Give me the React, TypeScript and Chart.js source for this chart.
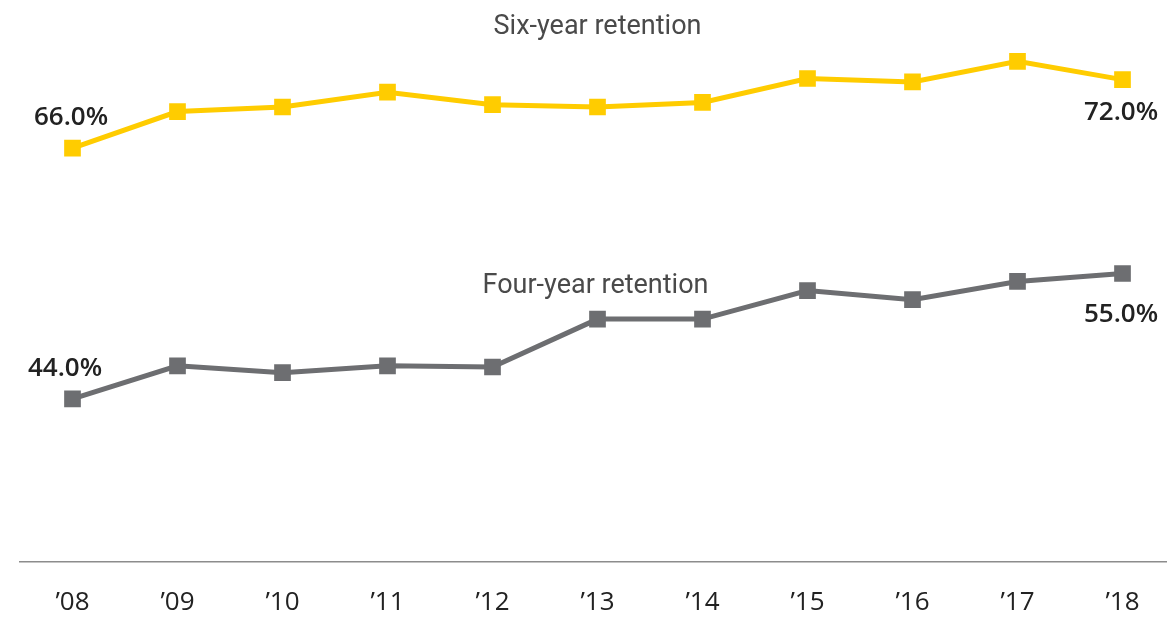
import React, { useEffect, useRef } from "react";
import { Chart, registerables } from "chart.js";

Chart.register(...registerables);

const categories = ["’08", "’09", "’10", "’11", "’12", "’13", "’14", "’15", "’16", "’17", "’18"];
const sixYear = [66.0, 69.2, 69.6, 70.9, 69.8, 69.6, 70.0, 72.1, 71.8, 73.6, 72.0];
const fourYear = [44.0, 46.9, 46.3, 46.9, 46.8, 51.0, 51.0, 53.5, 52.7, 54.3, 55.0];
const seriesNames = ["Six-year retention", "Four-year retention"];
const seriesColors = ["#FFCC00", "#6D6E71"];

const annotate = {
  id: "annotate",
  afterDatasetsDraw(chart: any) {
    const ctx = chart.ctx;
    const xs = chart.scales.x;
    ctx.save();
    ctx.textBaseline = "alphabetic";
    ctx.textAlign = "center";
    ctx.fillStyle = "#4a4a4a";
    ctx.font = "27px Roboto";
    const cx = xs.getPixelForValue(5);
    ctx.fillText(seriesNames[0], cx, 34);
    ctx.fillText(seriesNames[1], cx - 2, 292.5);

    ctx.fillStyle = "#222222";
    ctx.font = "600 26px 'Open Sans'";
    const offsets = [
      [[-1.5, -23.5], [-1.5, 40]],
      [[-7.5, -22.5], [-1.5, 49]],
    ];
    [0, 1].forEach((di) => {
      const meta = chart.getDatasetMeta(di);
      const vals = chart.data.datasets[di].data as number[];
      const first = meta.data[0];
      const last = meta.data[meta.data.length - 1];
      ctx.fillText(vals[0].toFixed(1) + "%", first.x + offsets[di][0][0], first.y + offsets[di][0][1]);
      ctx.fillText(
        vals[vals.length - 1].toFixed(1) + "%",
        last.x + offsets[di][1][0],
        last.y + offsets[di][1][1]
      );
    });
    ctx.restore();
  },
};

export default function App() {
  const ref = useRef<HTMLCanvasElement>(null);
  useEffect(() => {
    if (!ref.current) return;
    const chart = new Chart(ref.current, {
      type: "line",
      data: {
        labels: categories,
        datasets: [
          {
            label: seriesNames[0],
            data: sixYear,
            borderColor: seriesColors[0],
            backgroundColor: seriesColors[0],
            borderWidth: 5,
            pointStyle: "rect",
            pointRadius: 11.8,
            pointBorderWidth: 0,
            tension: 0,
          },
          {
            label: seriesNames[1],
            data: fourYear,
            borderColor: seriesColors[1],
            backgroundColor: seriesColors[1],
            borderWidth: 5,
            pointStyle: "rect",
            pointRadius: 11.8,
            pointBorderWidth: 0,
            tension: 0,
          },
        ],
      },
      options: {
        responsive: true,
        maintainAspectRatio: false,
        animation: false,
        layout: { autoPadding: false, padding: { left: 20, right: 0, top: 11.2, bottom: 0 } },
        plugins: { legend: { display: false }, tooltip: { enabled: false }, title: { display: false } },
        scales: {
          x: {
            offset: true,
            grid: { display: false, drawTicks: false },
            border: { display: true, color: "#8c8c8c", width: 1.5 },
            ticks: { color: "#222222", font: { family: "'Open Sans'", size: 26 }, padding: 25, maxRotation: 0, autoSkip: false },
            afterFit: (s: any) => {
              s.height = 56;
            },
          },
          y: { display: false, min: 29.7, max: 78 },
        },
      },
      plugins: [annotate],
    });
    return () => chart.destroy();
  }, []);
  return (
    <div style={{ position: "absolute", left: 0, top: 0, width: 1167, height: 618, overflow: "hidden", background: "#fff" }}>
      <div style={{ position: "relative", width: 1175, height: 618 }}>
        <canvas ref={ref} />
      </div>
    </div>
  );
}
